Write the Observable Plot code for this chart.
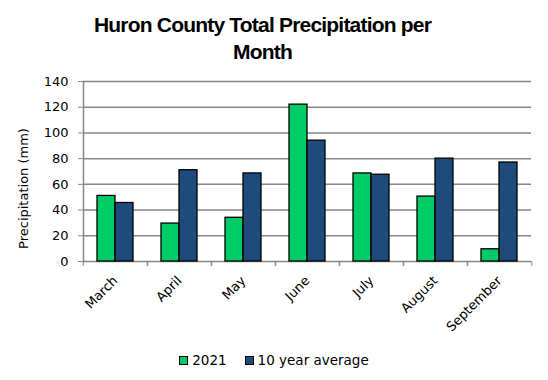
<!DOCTYPE html>
<html><head><meta charset="utf-8">
<script src="https://cdn.jsdelivr.net/npm/d3@7"></script>
<script src="https://cdn.jsdelivr.net/npm/@observablehq/plot@0.6"></script>
<style>
body{margin:0;background:#fff;width:548px;height:380px;overflow:hidden;font-family:"DejaVu Sans",sans-serif;}
#title{width:525px;text-align:center;font-family:"Liberation Sans",sans-serif;font-weight:bold;font-size:21px;letter-spacing:-0.8px;line-height:27px;padding-top:11px;height:54px;color:#000;}
#chart{height:275px;}
#legend{display:flex;justify-content:center;align-items:center;margin-top:10px;font-size:13.5px;color:#000;height:20px;}
#legend .item{display:flex;align-items:center;margin:0 9px;}
#legend .sw{width:7px;height:7px;border:1px solid #000;margin-right:4px;}
</style></head><body>
<div id="title">Huron County Total Precipitation per<br>Month</div>
<div id="chart"></div>
<div id="legend"></div>
<script>
const months = ["March","April","May","June","July","August","September"];
const seriesNames = ["2021","10 year average"];
const values2021 = [51, 29.5, 34, 122, 68.5, 50.5, 9.5];
const valuesAvg = [45.5, 71, 68.5, 94, 67.5, 80, 77];
const yTicks = [0,20,40,60,80,100,120,140];
const yLabel = "Precipitation (mm)";
const colors = ["#00CC66","#1F4A7C"];

const data = months.flatMap((m,i)=>[
  {month:m, series:seriesNames[0], value:values2021[i]},
  {month:m, series:seriesNames[1], value:valuesAvg[i]}
]);
const W = 548, ML = 81, MR = 15;
const step = (W-ML-MR)/months.length;
const chart = Plot.plot({
  width:W, height:275, marginLeft:ML, marginRight:MR, marginTop:16, marginBottom:79,
  style:{fontFamily:"DejaVu Sans", fontSize:"13px", color:"#000", background:"#fff"},
  fx:{domain:months, padding:0, label:null, axis:null},
  x:{domain:seriesNames, paddingInner:0, paddingOuter:0.7, axis:null},
  y:{domain:[0,140], axis:null},
  color:{domain:seriesNames, range:colors},
  marks:[
    Plot.gridY(yTicks.slice(1), {stroke:"#868686", strokeOpacity:1, strokeWidth:1.5}),
    Plot.ruleY([0], {stroke:"#868686", strokeWidth:1.5}),
    Plot.barY(data, {fx:"month", x:"series", y:"value", fill:"series", stroke:"#000", strokeWidth:1.3}),
    Plot.axisY(yTicks, {tickSize:5, tickPadding:10, stroke:"#868686", strokeOpacity:1, label:null, fontSize:13}),
    Plot.text([yLabel], {fx:[months[0]], text:d=>d, frameAnchor:"left", textAnchor:"middle", rotate:-90, dx:-60, dy:17, fontSize:13, fill:"#000"}),
    Plot.frame({fx:[months[0]], anchor:"left", stroke:"#868686", strokeOpacity:1, strokeWidth:1.5}),
    Plot.axisFx({anchor:"bottom", tickSize:0, tickRotate:-45, tickPadding:17, label:null, fontSize:13}),
    Plot.axisFx({anchor:"bottom", tickSize:5, tickFormat:()=>"", dx:-step/2, stroke:"#868686", strokeOpacity:1, label:null}),
    Plot.axisFx({anchor:"bottom", tickSize:5, tickFormat:()=>"", dx:step/2, stroke:"#868686", strokeOpacity:1, label:null})
  ]
});
document.getElementById("chart").append(chart);
const lg = document.getElementById("legend");
seriesNames.forEach((s,i)=>{
  const it = document.createElement("div"); it.className="item";
  const sw = document.createElement("div"); sw.className="sw"; sw.style.background = colors[i];
  const tx = document.createElement("span"); tx.textContent = s;
  it.append(sw, tx); lg.append(it);
});
</script>
</body></html>
